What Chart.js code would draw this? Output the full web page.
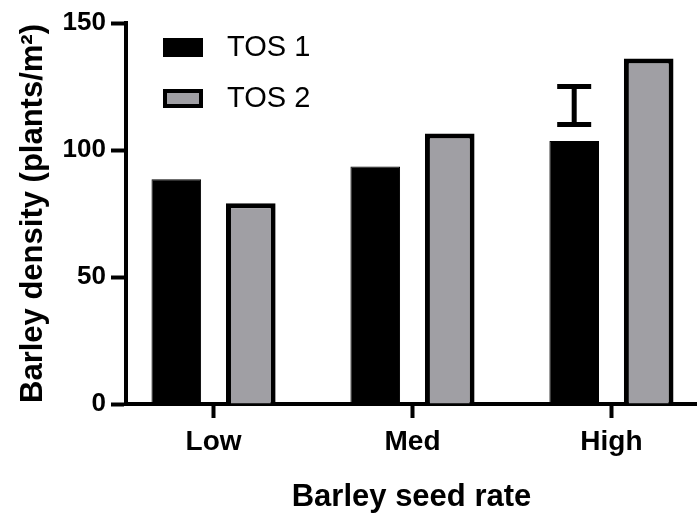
<!DOCTYPE html>
<html>
<head>
<meta charset="utf-8">
<script src="https://cdn.jsdelivr.net/npm/chart.js@4/dist/chart.umd.min.js"></script>
<style>
  body { margin: 0; background: #fff; }
  #wrap { width: 697px; height: 514px; position: relative; }
</style>
</head>
<body>
<div id="wrap"><canvas id="barleyChart"></canvas></div>
<script>
const categories = ['Low', 'Med', 'High'];
const seriesNames = ['TOS 1', 'TOS 2'];
const tos1Density = [88.5, 93.5, 103.5];
const tos2Density = [79, 106.5, 136];
const yTicks = [0, 50, 100, 150];
// LSD bar drawn over the High / TOS 1 bar
const lsdCategory = 'High';
const lsdRange = [110, 125];

const fontFamily = '"Liberation Sans", Arial, Helvetica, sans-serif';
const grey = '#a09fa4';

function toPoints(values) {
    return values.map((v, i) => ({ x: i + 1, y: v }));
}

// legend drawn inside the plot, top left
const legendInside = {
    id: 'legendInside',
    afterDraw(chart) {
        const ctx = chart.ctx;
        ctx.save();
        chart.data.datasets.forEach((ds, i) => {
            const top = 38 + i * 51;
            ctx.fillStyle = ds.backgroundColor;
            ctx.fillRect(163, top, 40, 19);
            if (ds.borderWidth > 1) {
                ctx.strokeStyle = '#000';
                ctx.lineWidth = 4;
                ctx.strokeRect(165, top + 2, 36, 15);
            }
            ctx.fillStyle = '#000';
            ctx.font = '29px ' + fontFamily;
            ctx.textBaseline = 'middle';
            ctx.fillText(ds.label, 227, top + 10);
        });
        ctx.restore();
    }
};

const lsdBar = {
    id: 'lsdBar',
    afterDatasetsDraw(chart) {
        const ctx = chart.ctx;
        const idx = categories.indexOf(lsdCategory);
        const bar = chart.getDatasetMeta(0).data[idx];
        const y = chart.scales.y;
        const yTop = y.getPixelForValue(lsdRange[1]);
        const yBot = y.getPixelForValue(lsdRange[0]);
        ctx.save();
        ctx.strokeStyle = '#000';
        ctx.lineWidth = 5;
        ctx.beginPath();
        ctx.moveTo(bar.x, yTop);
        ctx.lineTo(bar.x, yBot);
        ctx.moveTo(bar.x - 17, yTop);
        ctx.lineTo(bar.x + 17, yTop);
        ctx.moveTo(bar.x - 17, yBot);
        ctx.lineTo(bar.x + 17, yBot);
        ctx.stroke();
        ctx.restore();
    }
};

const ctx = document.getElementById('barleyChart').getContext('2d');
new Chart(ctx, {
    type: 'bar',
    data: {
        datasets: [{
            label: seriesNames[0],
            data: toPoints(tos1Density),
            backgroundColor: '#000',
            borderColor: '#000',
            borderWidth: 1
        }, {
            label: seriesNames[1],
            data: toPoints(tos2Density),
            backgroundColor: grey,
            borderColor: '#000',
            borderWidth: 5
        }]
    },
    options: {
        responsive: true,
        maintainAspectRatio: false,
        animation: false,
        categoryPercentage: 0.749,
        barPercentage: 0.666,
        layout: { padding: { top: 23, right: 0, left: 0, bottom: 0 } },
        plugins: {
            legend: { display: false },
            tooltip: { enabled: false }
        },
        scales: {
            x: {
                type: 'linear',
                min: 0.56,
                max: 3.43,
                offset: false,
                z: 1,
                afterFit(scale) { scale.height = 110; },
                afterBuildTicks(scale) {
                    scale.ticks = categories.map((c, i) => ({ value: i + 1 }));
                },
                grid: {
                    offset: false,
                    drawOnChartArea: false,
                    tickLength: 14,
                    tickWidth: 4,
                    tickColor: '#000'
                },
                border: { color: '#000', width: 4 },
                ticks: {
                    color: '#000',
                    padding: 7,
                    maxRotation: 0,
                    font: { family: fontFamily, size: 28, weight: 'bold' },
                    callback: (value) => categories[value - 1]
                },
                title: {
                    display: true,
                    text: 'Barley seed rate',
                    color: '#000',
                    padding: { top: 0, bottom: 1 },
                    font: { family: fontFamily, size: 31, weight: 'bold', lineHeight: 1 }
                }
            },
            y: {
                min: 0,
                max: 150,
                z: 1,
                afterFit(scale) { scale.width = 126; },
                afterBuildTicks(scale) {
                    scale.ticks = yTicks.map(v => ({ value: v }));
                },
                grid: {
                    drawOnChartArea: false,
                    tickLength: 15,
                    tickWidth: 4,
                    tickColor: '#000'
                },
                border: { color: '#000', width: 4 },
                ticks: {
                    color: '#000',
                    padding: 5,
                    font: { family: fontFamily, size: 26, weight: 'bold' }
                },
                title: {
                    display: true,
                    text: 'Barley density (plants/m²)',
                    color: '#000',
                    padding: { top: 18, bottom: 0 },
                    font: { family: fontFamily, size: 31, weight: 'bold', lineHeight: 1 }
                }
            }
        }
    },
    plugins: [legendInside, lsdBar]
});
</script>
</body>
</html>
